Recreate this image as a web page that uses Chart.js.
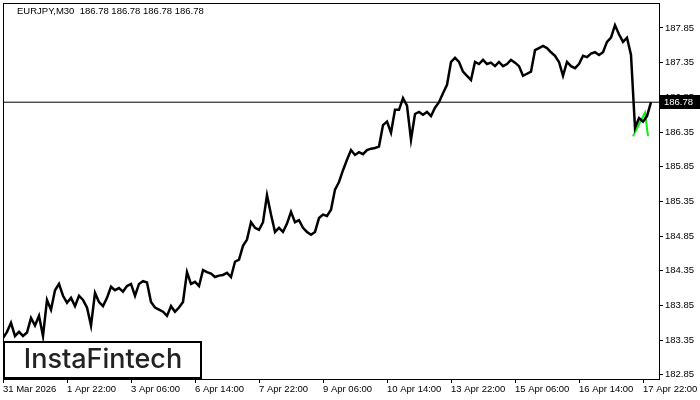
<!DOCTYPE html>
<html>
<head>
<meta charset="utf-8">
<title>EURJPY M30</title>
<script src="https://cdn.jsdelivr.net/npm/chart.js@4/dist/chart.umd.min.js"></script>
<style>
  html, body { margin: 0; padding: 0; background: #fff; }
  #wrap { width: 700px; height: 400px; }
</style>
</head>
<body>
<div id="wrap"><canvas id="chart" width="700" height="400"></canvas></div>
<script>
  'use strict';

  /* ── Data ──────────────────────────────────────── */

  const SYMBOL = 'EURJPY,M30';
  const BID = 186.78;
  const BAR_STEP = 4; // one sample every 4 bars of 30 min

  const closes = [
    183.38, 183.47, 183.60, 183.41, 183.47, 183.41, 183.46, 183.67, 183.56, 183.70,
    183.41, 183.93, 183.79, 184.07, 184.16, 183.99, 183.89, 183.96, 183.84, 183.99,
    183.93, 183.82, 183.56, 184.03, 183.90, 183.84, 183.96, 184.12, 184.07, 184.10,
    184.05, 184.13, 184.16, 183.99, 184.16, 184.20, 184.18, 183.90, 183.82, 183.79,
    183.76, 183.70, 183.84, 183.76, 183.82, 183.90, 184.33, 184.16, 184.19, 184.13,
    184.36, 184.33, 184.31, 184.26, 184.28, 184.29, 184.32, 184.26, 184.48, 184.51,
    184.71, 184.80, 185.05, 184.97, 184.94, 185.05, 185.44, 185.16, 184.91, 184.97,
    184.91, 185.03, 185.20, 185.05, 185.08, 184.97, 184.91, 184.87, 184.91, 185.11,
    185.16, 185.14, 185.23, 185.52, 185.63, 185.80, 185.95, 186.09, 186.02, 186.06,
    186.03, 186.09, 186.11, 186.12, 186.14, 186.45, 186.50, 186.34, 186.67, 186.67,
    186.84, 186.73, 186.24, 186.61, 186.64, 186.60, 186.64, 186.58, 186.70, 186.78,
    186.91, 187.03, 187.36, 187.42, 187.36, 187.22, 187.16, 187.10, 187.36, 187.33,
    187.39, 187.33, 187.35, 187.30, 187.36, 187.30, 187.33, 187.39, 187.35, 187.30,
    187.16, 187.19, 187.22, 187.53, 187.56, 187.59, 187.56, 187.50, 187.45, 187.36,
    187.16, 187.36, 187.30, 187.27, 187.33, 187.45, 187.43, 187.48, 187.50, 187.46,
    187.50, 187.65, 187.71, 187.89, 187.76, 187.65, 187.71, 187.46, 186.41, 186.55,
    186.50, 186.58, 186.78
  ];

  const timeLabels = [
    '31 Mar 2026', '1 Apr 22:00', '3 Apr 06:00', '6 Apr 14:00', '7 Apr 22:00',
    '9 Apr 06:00', '10 Apr 14:00', '13 Apr 22:00', '15 Apr 06:00', '16 Apr 14:00',
    '17 Apr 22:00'
  ];
  const BARS_PER_LABEL = 64;
  const BARS_VISIBLE = 656;

  const priceTicks = [
    182.85, 183.35, 183.85, 184.35, 184.85, 185.35,
    185.85, 186.35, 186.85, 187.35, 187.85
  ];
  const PRICE_MIN = 182.79;
  const PRICE_MAX = 188.21;

  // pattern marker (green)
  const patternBars = [630, 642, 645];
  const patternPrices = [186.29, 186.63, 186.29];

  /* ── Helpers ───────────────────────────────────── */

  const FONT = { family: '"Liberation Sans", Arial, sans-serif', size: 9.5 };
  const fontStr = (f) => `${f.size}px ${f.family}`;

  const priceData = closes.map((p, i) => ({ x: i * BAR_STEP, y: p }));
  const bidData = [{ x: 0, y: BID }, { x: BARS_VISIBLE, y: BID }];
  const patternData = patternBars.map((b, i) => ({ x: b, y: patternPrices[i] }));

  /* ── Overlay plugin: frame, title, price box, logo ── */

  const overlay = {
    id: 'overlay',
    afterDraw(chart) {
      const { ctx, chartArea: a, scales } = chart;
      ctx.save();

      // frame round the plot
      ctx.strokeStyle = '#000';
      ctx.lineWidth = 1;
      ctx.strokeRect(a.left + 0.5, a.top + 0.5, a.right - a.left, a.bottom - a.top);

      // title
      ctx.fillStyle = '#000';
      ctx.font = fontStr(FONT);
      ctx.textBaseline = 'middle';
      ctx.textAlign = 'left';
      const b = BID.toFixed(2);
      ctx.fillText(`${SYMBOL}  ${b} ${b} ${b} ${b}`, 17, 11);

      // current price box on the right axis
      const py = Math.round(scales.y.getPixelForValue(BID));
      ctx.fillStyle = '#000';
      ctx.fillRect(a.right + 1, py - 7, 40, 14);
      ctx.fillStyle = '#fff';
      ctx.fillText(b, a.right + 5, py + 0.5);

      // logo box
      ctx.fillStyle = '#fff';
      ctx.fillRect(4, 342, 197, 36);
      ctx.strokeStyle = '#000';
      ctx.lineWidth = 2;
      ctx.strokeRect(4, 342, 197, 36);
      ctx.fillStyle = '#222';
      ctx.font = '500 27px Inter, "Liberation Sans", sans-serif';
      ctx.textAlign = 'center';
      ctx.fillText('InstaFintech', 103, 360);

      ctx.restore();
    }
  };

  /* ── Chart ─────────────────────────────────────── */

  new Chart(document.getElementById('chart'), {
    type: 'line',
    data: {
      datasets: [
        {
          label: 'bid',
          data: bidData,
          borderColor: '#000',
          borderWidth: 1,
          pointRadius: 0,
        },
        {
          label: SYMBOL,
          data: priceData,
          borderColor: '#000',
          borderWidth: 2.5,
          pointRadius: 0,
          tension: 0,
        },
        {
          label: 'pattern',
          data: patternData,
          borderColor: '#11ee11',
          borderWidth: 2,
          pointRadius: 0,
          tension: 0,
        },
      ],
    },
    options: {
      responsive: false,
      animation: false,
      events: [],
      layout: { padding: { left: 3, top: 3, right: 0, bottom: 0 } },
      plugins: { legend: { display: false }, tooltip: { enabled: false } },
      scales: {
        x: {
          type: 'linear',
          position: 'bottom',
          min: 0,
          max: BARS_VISIBLE,
          afterBuildTicks: (s) => {
            s.ticks = timeLabels.map((_, i) => ({ value: i * BARS_PER_LABEL }));
          },
          afterFit: (s) => {
            s.height = 21;
            s.paddingLeft = 0;
            s.paddingRight = 0;
          },
          ticks: {
            callback: (v, i) => timeLabels[i],
            autoSkip: false,
            maxRotation: 0,
            align: 'start',
            padding: 1,
            color: '#000',
            font: FONT,
          },
          grid: { drawOnChartArea: false, tickLength: 4, color: '#000' },
          border: { color: '#000' },
        },
        y: {
          type: 'linear',
          position: 'right',
          min: PRICE_MIN,
          max: PRICE_MAX,
          afterBuildTicks: (s) => {
            s.ticks = priceTicks.map((v) => ({ value: v }));
          },
          afterFit: (s) => {
            s.width = 41;
            s.paddingTop = 0;
            s.paddingBottom = 0;
          },
          ticks: {
            callback: (v) => v.toFixed(2),
            padding: 2,
            color: '#000',
            font: FONT,
          },
          grid: { drawOnChartArea: false, tickLength: 4, color: '#000' },
          border: { color: '#000' },
        },
      },
    },
    plugins: [overlay],
  });
</script>
</body>
</html>
